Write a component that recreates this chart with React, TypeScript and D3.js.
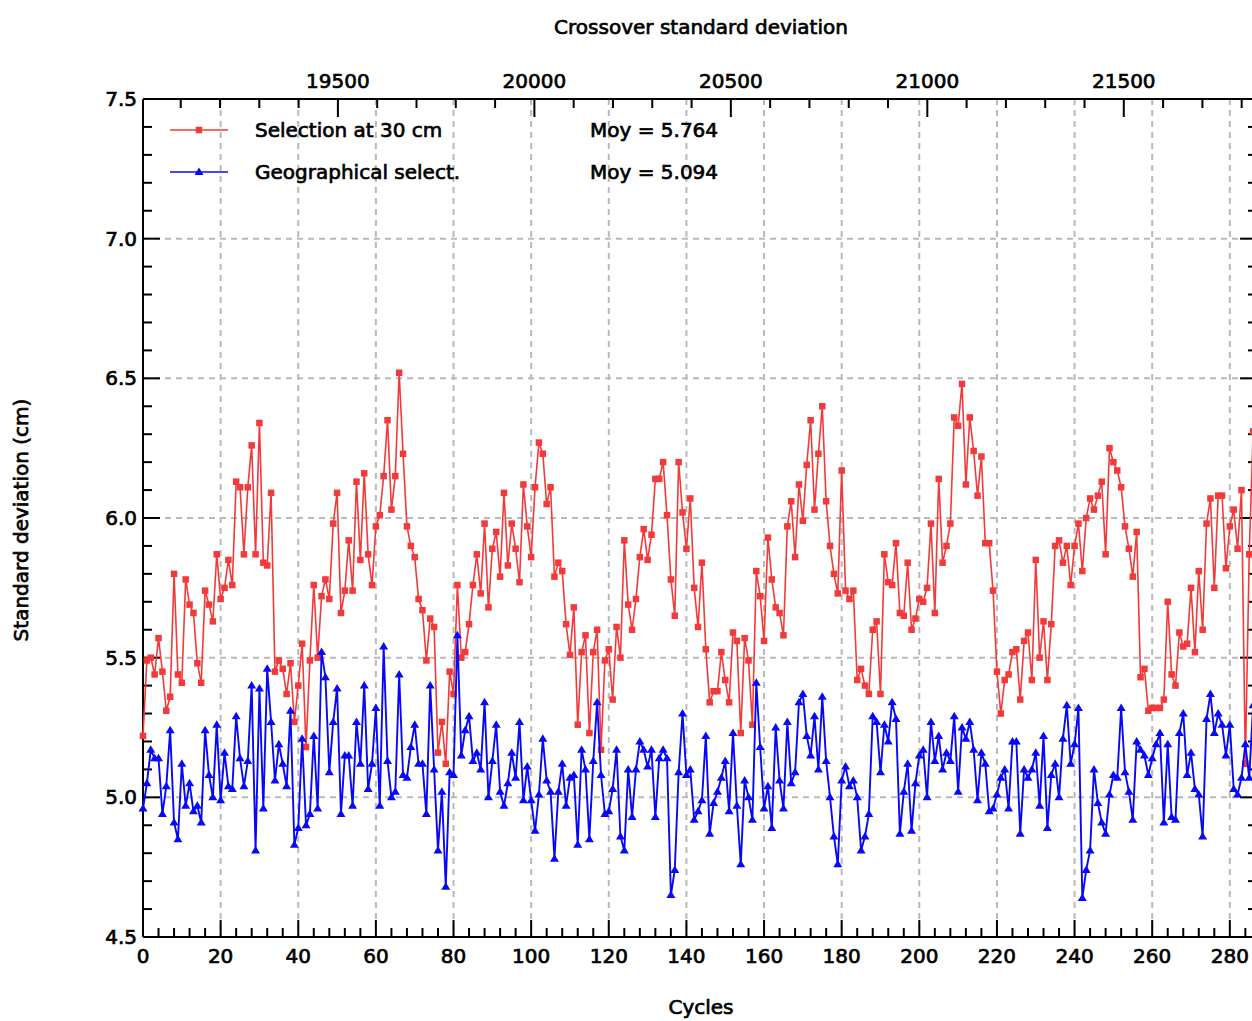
import React from "react";
import * as d3 from "d3";

// standard deviation per cycle (cycle = array index)
const selection30: number[] = [
  5.22, 5.49, 5.5, 5.44, 5.57, 5.45, 5.31, 5.36, 5.8, 5.44,
  5.41, 5.78, 5.69, 5.66, 5.48, 5.41, 5.74, 5.69, 5.63, 5.87,
  5.71, 5.75, 5.85, 5.76, 6.13, 6.11, 5.87, 6.11, 6.26, 5.87,
  6.34, 5.84, 5.83, 6.09, 5.45, 5.49, 5.46, 5.37, 5.48, 5.27,
  5.4, 5.55, 5.18, 5.49, 5.76, 5.5, 5.72, 5.78, 5.71, 5.98,
  6.09, 5.66, 5.74, 5.92, 5.74, 6.13, 5.85, 6.16, 5.87, 5.76,
  5.97, 6.01, 6.15, 6.35, 6.03, 6.15, 6.52, 6.23, 5.97, 5.9,
  5.86, 5.71, 5.67, 5.49, 5.64, 5.61, 5.16, 5.27, 5.12, 5.45,
  5.37, 5.76, 5.5, 5.52, 5.62, 5.76, 5.87, 5.73, 5.98, 5.68,
  5.89, 5.95, 5.79, 6.09, 5.83, 5.98, 5.89, 5.77, 6.12, 5.97,
  5.86, 6.11, 6.27, 6.23, 6.05, 6.11, 5.79, 5.84, 5.81, 5.62,
  5.51, 5.68, 5.26, 5.52, 5.58, 5.23, 5.52, 5.6, 5.17, 5.49,
  5.53, 5.35, 5.61, 5.5, 5.92, 5.69, 5.6, 5.71, 5.86, 5.96,
  5.85, 5.94, 6.14, 6.14, 6.2, 6.01, 5.78, 5.65, 6.2, 6.02,
  5.89, 6.07, 5.75, 5.61, 5.84, 5.53, 5.34, 5.38, 5.38, 5.52,
  5.42, 5.34, 5.59, 5.56, 5.23, 5.57, 5.49, 5.26, 5.81, 5.72,
  5.56, 5.93, 5.78, 5.68, 5.66, 5.58, 5.97, 6.06, 5.86, 6.12,
  5.99, 6.19, 6.35, 6.03, 6.23, 6.4, 6.06, 5.9, 5.8, 5.73,
  6.17, 5.74, 5.71, 5.74, 5.42, 5.46, 5.4, 5.37, 5.6, 5.63,
  5.37, 5.87, 5.77, 5.76, 5.91, 5.66, 5.65, 5.84, 5.6, 5.64,
  5.71, 5.7, 5.75, 5.98, 5.66, 6.14, 5.84, 5.9, 5.98, 6.36,
  6.33, 6.48, 6.12, 6.36, 6.24, 6.08, 6.22, 5.91, 5.91, 5.74,
  5.45, 5.3, 5.42, 5.44, 5.52, 5.53, 5.35, 5.56, 5.59, 5.42,
  5.85, 5.5, 5.63, 5.42, 5.62, 5.9, 5.92, 5.84, 5.9, 5.76,
  5.9, 5.98, 5.81, 6.0, 6.07, 6.03, 6.08, 6.13, 5.87, 6.25,
  6.2, 6.17, 6.11, 5.97, 5.89, 5.79, 5.95, 5.43, 5.46, 5.31,
  5.32, 5.32, 5.32, 5.35, 5.7, 5.44, 5.4, 5.59, 5.54, 5.55,
  5.75, 5.52, 5.81, 5.6, 5.98, 6.07, 5.75, 6.08, 6.08, 5.82,
  5.97, 6.03, 5.89, 6.1, 5.12, 5.87, 6.31,
];

const geographical: number[] = [
  4.96, 5.05, 5.17, 5.14, 5.14, 4.94, 5.04, 5.24, 4.91, 4.85,
  5.12, 4.97, 5.05, 4.95, 4.97, 4.91, 5.24, 5.08, 5.0, 5.26,
  4.99, 5.16, 5.04, 5.03, 5.29, 5.14, 5.04, 5.13, 5.4, 4.81,
  5.39, 4.96, 5.46, 5.27, 5.06, 5.19, 5.12, 5.04, 5.31, 4.83,
  4.89, 5.21, 4.9, 4.94, 5.22, 4.96, 5.52, 5.43, 5.09, 5.27,
  5.39, 4.94, 5.15, 5.15, 4.97, 5.27, 5.12, 5.4, 5.03, 5.12,
  5.32, 4.97, 5.54, 5.13, 5.0, 5.02, 5.44, 5.08, 5.07, 5.18,
  5.26, 5.12, 5.12, 4.94, 5.4, 5.1, 4.81, 5.02, 4.68, 5.09,
  5.08, 5.58, 5.15, 5.24, 5.29, 5.13, 5.16, 5.1, 5.34, 5.0,
  5.13, 5.26, 5.02, 4.97, 5.05, 5.16, 5.07, 5.27, 4.99, 5.11,
  4.99, 4.88, 5.01, 5.21, 5.06, 5.02, 4.78, 5.02, 5.12, 4.97,
  5.07, 5.08, 4.83, 5.17, 5.1, 4.85, 5.13, 5.34, 5.08, 4.94,
  4.95, 5.03, 5.17, 4.86, 4.81, 5.1, 4.93, 5.1, 5.2, 5.17,
  5.11, 5.17, 4.93, 5.14, 5.17, 5.14, 4.65, 4.74, 5.09, 5.3,
  5.08, 5.1, 4.92, 4.95, 4.99, 5.22, 4.87, 4.98, 5.02, 5.07,
  5.13, 4.95, 5.23, 4.97, 4.76, 5.06, 5.0, 4.92, 5.41, 5.18,
  4.96, 5.04, 4.89, 5.25, 5.06, 4.96, 5.27, 5.05, 5.09, 5.34,
  5.37, 5.22, 5.15, 5.29, 5.1, 5.36, 5.13, 5.0, 4.86, 4.76,
  5.06, 5.11, 5.04, 5.06, 5.0, 4.81, 4.86, 4.94, 5.29, 5.27,
  5.09, 5.26, 5.2, 5.34, 5.28, 4.87, 5.02, 5.12, 4.88, 5.05,
  5.15, 5.17, 5.0, 5.27, 5.13, 5.22, 5.1, 5.16, 5.13, 5.29,
  5.02, 5.25, 5.21, 5.27, 5.17, 4.99, 5.16, 5.12, 4.95, 4.96,
  5.01, 5.07, 5.1, 4.96, 5.2, 5.2, 4.87, 5.1, 5.07, 5.1,
  5.16, 4.97, 5.22, 4.89, 5.08, 5.12, 5.0, 5.21, 5.33, 5.12,
  5.19, 5.32, 4.64, 4.74, 4.81, 5.1, 4.98, 4.91, 4.87, 5.01,
  5.08, 5.07, 5.32, 5.09, 5.02, 4.92, 5.2, 5.17, 5.15, 5.08,
  5.14, 5.19, 5.23, 4.91, 5.19, 4.93, 4.92, 5.23, 5.3, 5.08,
  5.16, 5.03, 5.01, 4.86, 5.28, 5.37, 5.23, 5.3, 5.26, 5.15,
  5.26, 5.03, 5.01, 5.07, 5.19, 5.07, 5.33,
];

const legendLabels = ["Selection at 30 cm", "Geographical select."];
const legendMeans = ["Moy = 5.764", "Moy = 5.094"];

const xTicks = [0, 20, 40, 60, 80, 100, 120, 140, 160, 180, 200, 220, 240, 260, 280];
const topTicks = [19500, 20000, 20500, 21000, 21500];
const yTicks = [4.5, 5.0, 5.5, 6.0, 6.5, 7.0, 7.5];

const W = 1252;
const H = 1021;
const left = 143;
const right = 1257;
const top = 99;
const bottom = 937;

const RED = "#f23a3a";
const BLUE = "#0808f8";
const FONT = "'DejaVu Sans', sans-serif";

export default function App() {
  const x = d3.scaleLinear().domain([0, 287]).range([left, right]);
  const xTop = d3.scaleLinear().domain([19004, 21839]).range([left, right]);
  const y = d3.scaleLinear().domain([4.5, 7.5]).range([bottom, top]);

  const line = d3
    .line<number>()
    .x((_, i) => x(i))
    .y(d => y(d));

  const minorX = d3.range(0, 288, 4);
  const minorTop = d3.range(19100, 21839, 100);
  const minorY = d3.range(45, 76, 1).map(v => v / 10);

  const txt = {
    fontFamily: FONT,
    fontSize: 20,
    fill: "#000",
    stroke: "#000",
    strokeWidth: 0.7,
  } as const;

  const tri = "M0,-4.5L4.5,3L-4.5,3Z";

  return (
    <div>
      <style>{"body{margin:0;}"}</style>
      <svg width={W} height={H} style={{ display: "block", background: "#fff" }}>
        {/* grid */}
        <g stroke="#b9b9b9" strokeWidth={2} strokeDasharray="6 5">
          {xTicks.filter(t => t > 0).map(t => (
            <line key={"gx" + t} x1={x(t)} x2={x(t)} y1={top} y2={bottom} />
          ))}
          {yTicks.filter(t => t > 4.5 && t < 7.5).map(t => (
            <line key={"gy" + t} x1={left} x2={right} y1={y(t)} y2={y(t)} />
          ))}
        </g>

        {/* frame */}
        <g stroke="#000" strokeWidth={2} fill="none">
          <line x1={left} x2={left} y1={top} y2={bottom} />
          <line x1={left} x2={right} y1={bottom} y2={bottom} />
          <line x1={left} x2={right} y1={top} y2={top} />
          <line x1={right} x2={right} y1={top} y2={bottom} />
        </g>

        {/* ticks */}
        <g stroke="#000" strokeWidth={2}>
          {minorX.map(t => {
            const len = t % 20 === 0 ? 17 : 9;
            return <line key={"bx" + t} x1={x(t)} x2={x(t)} y1={bottom} y2={bottom - len} />;
          })}
          {minorTop.map(t => {
            const len = t % 500 === 0 ? 18 : 9;
            return <line key={"tx" + t} x1={xTop(t)} x2={xTop(t)} y1={top} y2={top + len} />;
          })}
          {minorY.map(t => {
            const len = Math.round(t * 10) % 5 === 0 ? 17 : 9;
            return (
              <g key={"ly" + t}>
                <line x1={left} x2={left + len} y1={y(t)} y2={y(t)} />
                <line x1={right} x2={right - len} y1={y(t)} y2={y(t)} />
              </g>
            );
          })}
        </g>

        {/* tick labels */}
        {xTicks.map(t => (
          <text key={"lx" + t} x={x(t)} y={963} textAnchor="middle" {...txt}>
            {t}
          </text>
        ))}
        {topTicks.map(t => (
          <text key={"lt" + t} x={xTop(t)} y={88} textAnchor="middle" {...txt}>
            {t}
          </text>
        ))}
        {yTicks.map(t => (
          <text key={"ly" + t} x={137} y={y(t) + 7} textAnchor="end" {...txt}>
            {t.toFixed(1)}
          </text>
        ))}

        {/* titles */}
        <text x={701} y={34} textAnchor="middle" {...txt}>
          Crossover standard deviation
        </text>
        <text x={701} y={1014} textAnchor="middle" {...txt}>
          Cycles
        </text>
        <text
          transform="translate(28,520) rotate(-90)"
          textAnchor="middle"
          {...txt}
        >
          Standard deviation (cm)
        </text>

        {/* series */}
        <path d={line(selection30) ?? ""} fill="none" stroke={RED} strokeWidth={1.6} />
        <g fill={RED}>
          {selection30.map((v, i) => (
            <rect key={"r" + i} x={x(i) - 3.25} y={y(v) - 3.25} width={6.5} height={6.5} />
          ))}
        </g>
        <path d={line(geographical) ?? ""} fill="none" stroke={BLUE} strokeWidth={1.9} />
        <g fill={BLUE}>
          {geographical.map((v, i) => (
            <path key={"b" + i} d={tri} transform={`translate(${x(i)},${y(v)})`} />
          ))}
        </g>

        {/* legend */}
        {[RED, BLUE].map((c, i) => {
          const ly = 130 + i * 42;
          return (
            <g key={"leg" + i}>
              <line x1={170} x2={228} y1={ly} y2={ly} stroke={c} strokeWidth={1.6} />
              {i === 0 ? (
                <rect x={195.75} y={ly - 3.25} width={6.5} height={6.5} fill={c} />
              ) : (
                <path d={tri} transform={`translate(199,${ly})`} fill={c} />
              )}
              <text x={255} y={ly + 7} {...txt}>
                {legendLabels[i]}
              </text>
              <text x={590} y={ly + 7} {...txt}>
                {legendMeans[i]}
              </text>
            </g>
          );
        })}
      </svg>
    </div>
  );
}
